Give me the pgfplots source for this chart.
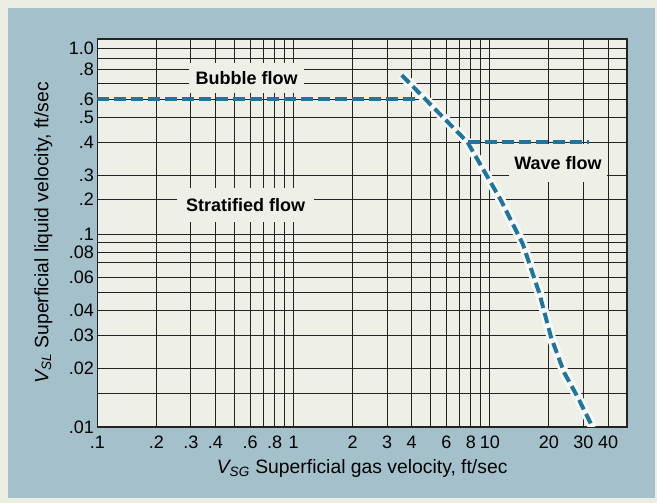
\documentclass[border=0pt]{standalone}
\usepackage{fontspec}
\setmainfont{Liberation Sans}
\usepackage{pgfplots}
\pgfplotsset{compat=1.18}
\definecolor{outerbg}{RGB}{236,237,226}
\definecolor{panel}{RGB}{163,192,203}
\definecolor{plotbg}{RGB}{238,240,231}
\definecolor{gridc}{RGB}{35,35,35}
\definecolor{flowline}{RGB}{30,118,158}
\newcommand{\chartfont}{\fontsize{13.5}{16}\selectfont}
\newcommand{\labelfont}{\fontsize{14.5}{17}\selectfont}
% the printed y scale is only logarithmic below 0.1; above it the grid is squeezed
\pgfplotsset{
  y coord trafo/.code={\pgfmathparse{193*(log10(min(#1,0.1))+2)
    +350*min(max(#1-0.1,0),0.1)+240*min(max(#1-0.2,0),0.1)
    +330*min(max(#1-0.3,0),0.1)+250*min(max(#1-0.4,0),0.1)
    +180*min(max(#1-0.5,0),0.1)+160*min(max(#1-0.6,0),0.1)
    +140*min(max(#1-0.7,0),0.1)+110*min(max(#1-0.8,0),0.1)
    +100*max(#1-0.9,0)}},
}

\begin{document}
\begin{tikzpicture}[x=0.75pt,y=0.75pt]
\fill[outerbg] (-97.3,-76) rectangle (559.7,427);
\fill[panel] (-89.3,-71) rectangle (557.7,419);
\begin{axis}[
  at={(0,0)}, anchor=south west,
  scale only axis, width=397.3pt, height=291pt,
  xmode=log, xmin=0.1, xmax=50,
  ymin=0.01, ymax=1.09,
  axis background/.style={fill=plotbg},
  axis line style={gridc, line width=0.9pt},
  grid=both,
  major grid style={gridc, line width=0.75pt},
  minor grid style={gridc, line width=0.75pt},
  major tick length=0pt, minor tick length=0pt,
  xtick={0.1,0.2,0.3,0.4,0.6,0.8,1,2,3,4,6,8,10,20,30,40},
  xticklabels={.1,.2,.3,.4,.6,.8,1,2,3,4,6,8,10,20,30,40},
  minor xtick={0.5,0.7,0.9,5,7,9},
  ytick={0.01,0.02,0.03,0.04,0.06,0.08,0.1,0.2,0.3,0.4,0.5,0.6,0.8,1.0},
  yticklabels={.01,.02,.03,.04,.06,.08,.1,.2,.3,.4,.5,.6,.8,1.0},
  minor ytick={0.015,0.05,0.07,0.09,0.7,0.9},
  tick label style={font=\chartfont},
  xticklabel style={yshift=-3.5pt},
  yticklabel style={xshift=1pt},
  xlabel={\textit{V\textsubscript{SG}} Superficial gas velocity, ft/sec},
  ylabel={\textit{V\textsubscript{SL}} Superficial liquid velocity, ft/sec},
  every axis x label/.style={at={(axis description cs:0.5,-0.107)}, anchor=center, font=\labelfont},
  every axis y label/.style={at={(axis description cs:-0.102,0.5)}, rotate=90, anchor=center, font=\labelfont},
]
% bubble / stratified boundary
\addplot[flowline, line width=3pt, dash pattern=on 9pt off 3.75pt] coordinates {
  (0.1,0.6) (4.5,0.6)
};
% transition curve, with its light halo
\addplot[white!70!plotbg, line width=7pt] coordinates {
  (3.56,0.757) (7.7,0.4) (11.4,0.197) (14.7,0.0895) (17.9,0.0493)
  (20.5,0.0294) (23.9,0.0193) (28.0,0.0144) (33.5,0.01)
};
\addplot[flowline, line width=3pt, dash pattern=on 8pt off 3.75pt] coordinates {
  (3.56,0.757) (7.7,0.4) (11.4,0.197) (14.7,0.0895) (17.9,0.0493)
  (20.5,0.0294) (23.9,0.0193) (28.0,0.0144) (33.5,0.01)
};
% wave flow boundary
\addplot[flowline, line width=3pt, dash pattern=on 9pt off 3.75pt] coordinates {
  (7.7,0.4) (32,0.4)
};
\node[fill=plotbg, font=\chartfont\bfseries, inner xsep=5pt, minimum height=22.5pt]
  at (rel axis cs:0.2817,0.8995) {Bubble flow};
\node[fill=plotbg, font=\chartfont\bfseries, inner xsep=6.5pt, minimum height=25.5pt]
  at (rel axis cs:0.2798,0.572) {Stratified flow};
\node[fill=plotbg, font=\chartfont\bfseries, inner xsep=4pt, minimum height=28pt]
  at (rel axis cs:0.8697,0.680) {Wave flow};
\end{axis}
\end{tikzpicture}
\end{document}
